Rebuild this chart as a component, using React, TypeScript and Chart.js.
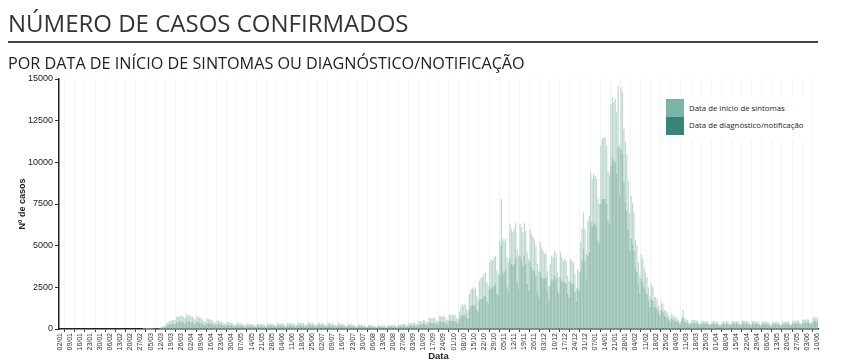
import React, { useEffect, useRef } from "react";
import { Chart, registerables } from "chart.js";

Chart.register(...registerables);

// Weekly tick labels (every 7 days starting 02/01/2020)
const TICK_LABELS = [
  "02/01", "09/01", "16/01", "23/01", "30/01", "06/02", "13/02", "20/02", "27/02", "05/03",
  "12/03", "19/03", "26/03", "02/04", "09/04", "16/04", "23/04", "30/04", "07/05", "14/05",
  "21/05", "28/05", "04/06", "11/06", "18/06", "25/06", "02/07", "09/07", "16/07", "23/07",
  "30/07", "06/08", "13/08", "20/08", "27/08", "03/09", "10/09", "17/09", "24/09", "01/10",
  "08/10", "15/10", "22/10", "29/10", "05/11", "12/11", "19/11", "26/11", "03/12", "10/12",
  "17/12", "24/12", "31/12", "07/01", "14/01", "21/01", "28/01", "04/02", "11/02", "18/02",
  "25/02", "04/03", "11/03", "18/03", "25/03", "01/04", "08/04", "15/04", "22/04", "29/04",
  "06/05", "13/05", "20/05", "27/05", "03/06", "10/06",
];

// Daily cases by date of symptom onset (one row per week, Thu..Wed)
const SINTOMAS = [
  0, 0, 0, 0, 0, 0, 0,
  0, 0, 0, 0, 0, 0, 0,
  0, 0, 0, 0, 0, 0, 0,
  0, 0, 0, 0, 0, 0, 0,
  0, 0, 0, 0, 0, 0, 0,
  0, 0, 0, 0, 0, 0, 0,
  0, 0, 0, 0, 0, 0, 0,
  0, 0, 0, 0, 0, 0, 0,
  0, 0, 1, 1, 2, 3, 4,
  8, 12, 15, 20, 35, 50, 70,
  110, 150, 170, 210, 330, 400, 450,
  500, 540, 520, 560, 720, 760, 740,
  820, 800, 700, 650, 880, 850, 800,
  760, 720, 600, 560, 760, 720, 690,
  640, 560, 470, 430, 620, 600, 570,
  540, 500, 400, 370, 520, 500, 470,
  450, 400, 320, 300, 440, 420, 390,
  360, 330, 260, 240, 370, 350, 330,
  320, 300, 230, 210, 330, 310, 300,
  300, 280, 220, 200, 320, 300, 290,
  310, 290, 230, 210, 340, 320, 300,
  320, 300, 240, 220, 350, 330, 310,
  330, 310, 250, 230, 360, 350, 330,
  340, 320, 260, 240, 380, 360, 340,
  360, 340, 270, 250, 390, 370, 350,
  350, 330, 260, 240, 380, 360, 340,
  340, 320, 250, 230, 370, 350, 330,
  320, 300, 240, 220, 350, 330, 310,
  300, 280, 220, 200, 320, 300, 280,
  260, 240, 190, 170, 280, 260, 250,
  230, 220, 170, 150, 250, 240, 220,
  210, 200, 160, 140, 230, 220, 210,
  220, 210, 160, 150, 240, 230, 220,
  250, 240, 190, 170, 280, 270, 260,
  310, 300, 230, 210, 350, 340, 330,
  400, 380, 300, 280, 470, 460, 440,
  560, 540, 420, 390, 650, 640, 610,
  680, 650, 510, 470, 780, 760, 730,
  760, 730, 570, 530, 880, 850, 820,
  850, 820, 650, 600, 1050, 1300, 1500,
  1400, 1500, 1200, 1100, 2100, 2400, 2500,
  2400, 2500, 2000, 1800, 2900, 3100, 3100,
  3300, 3400, 2800, 2600, 4000, 4200, 4100,
  4300, 4400, 3500, 3300, 5300, 7800, 5400,
  5300, 5400, 4300, 4000, 6300, 6000, 5800,
  6000, 6350, 4800, 4400, 6300, 6100, 5800,
  6350, 5900, 4600, 4200, 6000, 5700, 5500,
  5300, 5000, 3900, 3500, 5200, 4900, 4700,
  4500, 4550, 3500, 2600, 3900, 4400, 4300,
  4700, 4500, 3400, 3100, 4600, 4300, 4100,
  4200, 4100, 3200, 2900, 4200, 4100, 4000,
  3300, 2500, 3600, 3400, 5200, 6000, 7000,
  6000, 4500, 6500, 6800, 9400, 9000, 9300,
  9200, 9000, 7800, 7500, 11000, 11400, 11500,
  11460, 11000, 9500, 9300, 13500, 13900, 13600,
  13800, 13000, 14600, 11000, 14500, 14200, 12000,
  11200, 10500, 8900, 7000, 8000, 7560, 7000,
  5340, 5000, 4000, 3200, 4500, 4200, 3720,
  3400, 3100, 2500, 2000, 2700, 2500, 1920,
  1900, 1750, 1400, 1150, 1600, 1500, 1140,
  1100, 1000, 800, 650, 900, 850, 720,
  700, 650, 520, 420, 680, 1140, 620,
  580, 540, 420, 350, 560, 540, 520,
  520, 480, 380, 320, 500, 490, 470,
  480, 450, 360, 300, 470, 460, 440,
  440, 400, 300, 260, 420, 450, 430,
  460, 440, 340, 290, 480, 470, 450,
  480, 460, 360, 300, 500, 490, 470,
  470, 440, 350, 290, 480, 470, 450,
  440, 420, 330, 280, 460, 450, 430,
  420, 400, 310, 260, 430, 420, 400,
  430, 410, 320, 270, 450, 440, 420,
  470, 450, 350, 290, 500, 490, 470,
  530, 510, 400, 330, 570, 560, 540,
  600, 560, 440, 370, 650, 720, 690,
  700,
];

// Daily cases by date of diagnosis / notification (one row per week, Thu..Wed)
const DIAGNOSTICO = [
  0, 0, 0, 0, 0, 0, 0,
  0, 0, 0, 0, 0, 0, 0,
  0, 0, 0, 0, 0, 0, 0,
  0, 0, 0, 0, 0, 0, 0,
  0, 0, 0, 0, 0, 0, 0,
  0, 0, 0, 0, 0, 0, 0,
  0, 0, 0, 0, 0, 0, 0,
  0, 0, 0, 0, 0, 0, 0,
  0, 0, 0, 0, 1, 2, 3,
  4, 6, 8, 10, 15, 25, 35,
  60, 80, 95, 110, 180, 220, 250,
  270, 300, 290, 300, 400, 420, 410,
  450, 440, 380, 350, 480, 470, 440,
  420, 400, 330, 300, 420, 400, 380,
  350, 310, 260, 230, 340, 330, 310,
  300, 270, 220, 200, 290, 280, 260,
  250, 220, 170, 160, 240, 230, 210,
  200, 180, 140, 130, 200, 190, 180,
  180, 160, 130, 110, 180, 170, 160,
  170, 150, 120, 110, 180, 170, 160,
  170, 160, 130, 110, 190, 180, 170,
  180, 170, 130, 120, 200, 190, 170,
  190, 170, 140, 120, 200, 200, 190,
  190, 180, 140, 130, 210, 200, 190,
  200, 190, 150, 140, 220, 210, 200,
  200, 190, 150, 130, 210, 200, 190,
  190, 180, 140, 130, 210, 200, 190,
  180, 170, 130, 120, 200, 190, 180,
  170, 160, 120, 110, 180, 170, 160,
  150, 140, 100, 90, 160, 150, 140,
  130, 120, 90, 80, 140, 130, 120,
  120, 110, 80, 70, 130, 120, 110,
  120, 110, 80, 80, 130, 130, 120,
  140, 130, 100, 90, 160, 150, 140,
  170, 160, 120, 110, 200, 190, 180,
  220, 210, 160, 150, 270, 260, 250,
  310, 300, 230, 210, 370, 360, 340,
  380, 360, 280, 260, 440, 430, 410,
  420, 400, 310, 290, 500, 480, 460,
  480, 460, 360, 330, 600, 750, 850,
  800, 850, 680, 620, 1200, 1400, 1450,
  1400, 1450, 1150, 1050, 1700, 1800, 1800,
  1950, 2000, 1650, 1500, 2400, 2500, 2450,
  2600, 2700, 2100, 2000, 3200, 5000, 3300,
  3400, 3600, 2500, 2200, 4200, 3900, 3800,
  3900, 4300, 2800, 2400, 4400, 4100, 3800,
  4400, 3900, 2700, 2300, 4000, 3700, 3500,
  3500, 3200, 2200, 1900, 3400, 3100, 3000,
  3000, 3100, 2300, 1700, 2600, 3000, 2900,
  3200, 3000, 2300, 2100, 3100, 2900, 2800,
  2800, 2700, 2100, 1900, 2800, 2700, 2700,
  2200, 1600, 2400, 2300, 3500, 4100, 4800,
  4100, 3000, 4400, 4600, 6400, 6200, 6400,
  6300, 6100, 5300, 5100, 7500, 7800, 7800,
  7800, 7500, 6500, 6300, 9800, 10300, 10100,
  10000, 9300, 10900, 8000, 10800, 10500, 8800,
  7600, 7100, 6000, 4700, 5400, 5100, 4700,
  3600, 3400, 2700, 2100, 3000, 2800, 2500,
  2300, 2100, 1700, 1300, 1800, 1700, 1300,
  1300, 1200, 950, 780, 1100, 1000, 770,
  750, 680, 540, 440, 610, 580, 490,
  470, 440, 350, 280, 460, 700, 420,
  390, 360, 280, 230, 380, 360, 350,
  350, 320, 250, 210, 340, 330, 320,
  320, 300, 240, 200, 320, 310, 300,
  300, 270, 200, 170, 280, 300, 290,
  310, 300, 230, 190, 320, 320, 300,
  320, 310, 240, 200, 340, 330, 320,
  320, 300, 230, 190, 320, 320, 300,
  300, 280, 220, 190, 310, 300, 290,
  280, 270, 210, 170, 290, 280, 270,
  290, 280, 210, 180, 300, 300, 280,
  320, 300, 230, 190, 340, 330, 320,
  360, 340, 270, 220, 380, 380, 360,
  400, 380, 300, 250, 440, 480, 460,
  470,
];

const Y_TICKS = [0, 2500, 5000, 7500, 10000, 12500, 15000];

const LIGHT_BAR = "#bed8d1";
const DARK_BAR = "#9bc1b7";
const LEGEND_LIGHT = "#7ab5a8";
const LEGEND_DARK = "#36857a";

function pad2(n: number) {
  return n < 10 ? "0" + n : "" + n;
}

// One category per day, starting 02/01/2020
const DAYS: string[] = SINTOMAS.map((_, i) => {
  const d = new Date(2020, 0, 2 + i);
  return pad2(d.getDate()) + "/" + pad2(d.getMonth() + 1);
});

const AXIS_FONT = "'Liberation Sans', Arial, Helvetica, sans-serif";

export default function App() {
  const ref = useRef<HTMLCanvasElement>(null);

  useEffect(() => {
    if (!ref.current) return;
    const chart = new Chart(ref.current, {
      type: "bar",
      data: {
        labels: DAYS,
        datasets: [
          {
            label: "Data de diagnóstico/notificação",
            data: DIAGNOSTICO,
            backgroundColor: DARK_BAR,
            barPercentage: 0.85,
            categoryPercentage: 1,
            grouped: false,
            order: 1,
          } as any,
          {
            label: "Data de início de sintomas",
            data: SINTOMAS,
            backgroundColor: LIGHT_BAR,
            barPercentage: 0.85,
            categoryPercentage: 1,
            grouped: false,
            order: 2,
          } as any,
        ],
      },
      options: {
        animation: false,
        responsive: false,
        maintainAspectRatio: false,
        devicePixelRatio: 1,
        layout: { padding: { left: 13, right: 31, top: 79, bottom: 0 } },
        plugins: {
          legend: { display: false },
          tooltip: { enabled: false },
        },
        scales: {
          x: {
            type: "category",
            afterFit: (scale: any) => {
              scale.height = 35;
            },
            border: { color: "#222", width: 1.5 },
            grid: {
              color: "rgba(0,0,0,0.045)",
              tickColor: "#444",
              tickLength: 3,
              drawOnChartArea: true,
            },
            ticks: {
              autoSkip: false,
              maxRotation: 90,
              minRotation: 90,
              padding: 1,
              color: "#333",
              font: { family: AXIS_FONT, size: 7 },
              callback: (_v: any, index: number) =>
                index % 7 === 0 ? TICK_LABELS[index / 7] : null,
            },
            title: {
              display: true,
              text: "Data",
              color: "#222",
              font: { family: AXIS_FONT, size: 9.5, weight: "bold" },
              padding: { top: 0, bottom: 2 },
            },
          },
          y: {
            min: 0,
            max: 15000,
            afterFit: (scale: any) => {
              scale.width = 46;
            },
            afterBuildTicks: (scale: any) => {
              scale.ticks = Y_TICKS.map((v) => ({ value: v }));
            },
            border: { color: "#222", width: 1.5 },
            grid: {
              drawOnChartArea: false,
              tickColor: "#333",
              tickLength: 4,
            },
            ticks: {
              padding: 2,
              color: "#222",
              font: { family: AXIS_FONT, size: 9 },
              callback: (v: any) => String(v),
            },
            title: {
              display: true,
              text: "Nº de casos",
              color: "#222",
              font: { family: AXIS_FONT, size: 9, weight: "bold" },
              padding: { top: 4, bottom: 0 },
            },
          },
        },
      } as any,
    });
    return () => chart.destroy();
  }, []);

  return (
    <div
      style={{
        position: "fixed",
        left: 0,
        top: 0,
        width: 849,
        height: 364,
        background: "#fff",
        overflow: "hidden",
      }}
    >
      <canvas
        ref={ref}
        width={849}
        height={364}
        style={{ position: "absolute", left: 0, top: 0, width: 849, height: 364 }}
      />
      <div
        style={{
          position: "absolute",
          left: 8,
          top: 11,
          font: "400 24px 'Open Sans', sans-serif",
          lineHeight: "24px",
          color: "#333",
          whiteSpace: "nowrap",
        }}
      >
        NÚMERO DE CASOS CONFIRMADOS
      </div>
      <div
        style={{
          position: "absolute",
          left: 8,
          top: 41,
          width: 810,
          height: 2,
          background: "#444",
        }}
      />
      <div
        style={{
          position: "absolute",
          left: 8,
          top: 55,
          font: "400 16.2px 'Open Sans', sans-serif",
          lineHeight: "16px",
          color: "#222",
          whiteSpace: "nowrap",
        }}
      >
        POR DATA DE INÍCIO DE SINTOMAS OU DIAGNÓSTICO/NOTIFICAÇÃO
      </div>
      <div
        style={{
          position: "absolute",
          left: 662,
          top: 95,
          width: 150,
          height: 44,
          background: "#fff",
        }}
      />
      <div style={{ position: "absolute", left: 666, top: 99, width: 18, height: 18, background: LEGEND_LIGHT }} />
      <div style={{ position: "absolute", left: 666, top: 117, width: 18, height: 18, background: LEGEND_DARK }} />
      <div
        style={{
          position: "absolute",
          left: 689,
          top: 103,
          font: "400 7.8px 'Open Sans', sans-serif",
          lineHeight: "10px",
          color: "#222",
          whiteSpace: "nowrap",
        }}
      >
        Data de início de sintomas
      </div>
      <div
        style={{
          position: "absolute",
          left: 689,
          top: 120,
          font: "400 7.8px 'Open Sans', sans-serif",
          lineHeight: "10px",
          color: "#222",
          whiteSpace: "nowrap",
        }}
      >
        Data de diagnóstico/notificação
      </div>
    </div>
  );
}
